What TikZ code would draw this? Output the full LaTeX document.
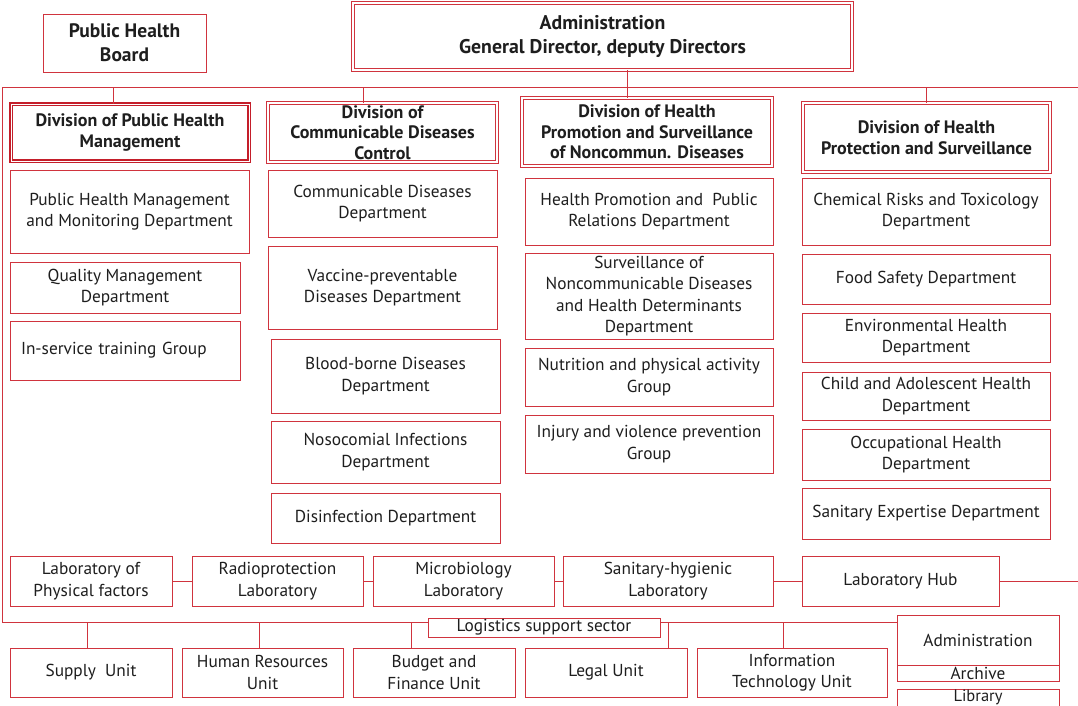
\documentclass[tikz,border=0pt]{standalone}
\usepackage{fontspec}
\setmainfont{PT Sans}
\definecolor{orgred}{RGB}{208,52,62}
\definecolor{orgdark}{RGB}{196,30,42}
\definecolor{orgtext}{RGB}{30,30,30}
\tikzset{
  unit/.style={draw=orgred, line width=0.9pt, fill=white, inner sep=0pt, outer sep=0pt,
    align=center, text=orgtext, font=\fontsize{17.3}{21.5}\selectfont},
  head/.style={unit, double=white, double distance=1.6pt, line width=0.8pt,
    font=\bfseries\fontsize{18}{21.5}\selectfont},
  headstrong/.style={head, draw=orgdark, line width=1.3pt, double distance=0.9pt},
  link/.style={draw=orgred, line width=0.9pt}
}
% box by its corners: style, name, x1, y1, x2, y2, text
\newcommand\orgbox[7]{%
  \node[#1, minimum width={#5-#3}, minimum height={#6-#4}] (#2)
    at ({(#3+#5)/2},{(#4+#6)/2}) {#7};}
\begin{document}
\begin{tikzpicture}[x=1pt,y=-1pt]
\useasboundingbox (0,0) rectangle (1078,705);

% bus lines of the frame
\coordinate (tl) at (2,87);
\coordinate (tr) at (1078,87);
\coordinate (bl) at (2,622);

% top level
\orgbox{unit, font=\bfseries\fontsize{19.5}{24}\selectfont}{board}{43}{14}{206}{72}{Public Health\\Board}
\orgbox{head, font=\bfseries\fontsize{19.8}{24}\selectfont}{adm}{353}{3}{852}{70}{Administration\\General Director, deputy Directors}

% divisions
\orgbox{headstrong}{dv1}{11}{104}{249}{161}{Division of Public Health\\Management}
\orgbox{head, font=\bfseries\fontsize{18}{20.5}\selectfont}{dv2}{268}{103}{497}{162}{Division of\\Communicable Diseases\\Control}
\orgbox{head, font=\bfseries\fontsize{18}{20.5}\selectfont}{dv3}{522}{98}{772}{166}{Division of Health\\Promotion and Surveillance\\of Noncommun. Diseases}
\orgbox{head}{dv4}{803}{103}{1050}{172}{Division of Health\\Protection and Surveillance}

% Division of Public Health Management
\orgbox{unit}{m1}{10}{170}{249}{253}{Public Health Management\\and Monitoring Department}
\orgbox{unit}{m2}{10}{262}{240}{313}{Quality Management\\Department}
\orgbox{unit, align=left, text width=208pt, inner xsep=11pt}{m3}{10}{321}{240}{380}{In-service training Group}

% Division of Communicable Diseases Control
\orgbox{unit}{c1}{268}{170}{497}{237}{Communicable Diseases\\Department}
\orgbox{unit}{c2}{268}{246}{497}{329}{Vaccine-preventable\\Diseases Department}
\orgbox{unit}{c3}{271}{339}{500}{413}{Blood-borne Diseases\\Department}
\orgbox{unit}{c4}{271}{421}{500}{483}{Nosocomial Infections\\Department}
\orgbox{unit}{c5}{271}{493}{500}{543}{Disinfection Department}

% Division of Health Promotion and Surveillance of Noncommunicable Diseases
\orgbox{unit}{p1}{525}{178}{773}{245}{Health Promotion and\ \ Public\\Relations Department}
\orgbox{unit}{p2}{525}{253}{773}{339}{Surveillance of\\Noncommunicable Diseases\\and Health Determinants\\Department}
\orgbox{unit}{p3}{525}{348}{773}{406}{Nutrition and physical activity\\Group}
\orgbox{unit}{p4}{525}{415}{773}{473}{Injury and violence prevention\\Group}

% Division of Health Protection and Surveillance
\orgbox{unit}{h1}{802}{178}{1050}{245}{Chemical Risks and Toxicology\\Department}
\orgbox{unit}{h2}{802}{254}{1050}{304}{Food Safety Department}
\orgbox{unit}{h3}{802}{313}{1050}{362}{Environmental Health\\Department}
\orgbox{unit}{h4}{802}{372}{1050}{420}{Child and Adolescent Health\\Department}
\orgbox{unit}{h5}{802}{429}{1050}{480}{Occupational Health\\Department}
\orgbox{unit}{h6}{802}{488}{1050}{539}{Sanitary Expertise Department}

% laboratories
\orgbox{unit}{l1}{10}{556}{172}{606}{Laboratory of\\Physical factors}
\orgbox{unit}{l2}{192}{556}{363}{606}{Radioprotection\\Laboratory}
\orgbox{unit}{l3}{373}{556}{554}{606}{Microbiology\\Laboratory}
\orgbox{unit}{l4}{563}{556}{773}{606}{Sanitary-hygienic\\Laboratory}
\orgbox{unit}{l5}{802}{556}{999}{606}{Laboratory Hub}
\coordinate (hubend) at (1078,581);

% logistics support sector
\orgbox{unit}{logi}{428}{618}{660}{637}{Logistics support sector}
\orgbox{unit}{u1}{10}{648}{172}{697}{Supply\ \ Unit}
\orgbox{unit}{u2}{182}{648}{343}{697}{Human Resources\\Unit}
\orgbox{unit}{u3}{353}{648}{515}{697}{Budget and\\Finance Unit}
\orgbox{unit}{u4}{525}{648}{687}{697}{Legal Unit}
\orgbox{unit}{u5}{697}{648}{887}{697}{Information\\Technology Unit}
\orgbox{unit}{ad}{897}{615}{1059}{665}{Administration}
\orgbox{unit}{ar}{897}{665}{1059}{681}{Archive}
\orgbox{unit, font=\fontsize{16.5}{20}\selectfont}{lib}{897}{689}{1059}{706}{Library}

% drop points on the bus lines
\coordinate (x1) at (113,87);
\coordinate (x2) at (363,87);
\coordinate (x3) at (627,87);
\coordinate (x4) at (926,87);
\coordinate (y1) at (87,622);
\coordinate (y2) at (259,622);
\coordinate (y3) at (411,622);
\coordinate (y4) at (668,622);
\coordinate (y5) at (783,622);

% frame and connectors
\draw[link] (tr) -- (tl) -- (bl) -- (bl -| logi.west);
\draw[link] (logi.east |- bl) -- (bl -| ad.west);
\draw[link] (x3) -- (x3 |- adm.south);
\draw[link] (x1) -- (x1 |- dv1.north);
\draw[link] (x2) -- (x2 |- dv2.north);
\draw[link] (x3) -- (x3 |- dv3.north);
\draw[link] (x4) -- (x4 |- dv4.north);
\draw[link] (l1) -- (l2);
\draw[link] (l2) -- (l3);
\draw[link] (l3) -- (l4);
\draw[link] (l4) -- (l5);
\draw[link] (l5) -- (hubend);
\draw[link] (y1) -- (y1 |- u1.north);
\draw[link] (y2) -- (y2 |- u2.north);
\draw[link] (y3) -- (y3 |- u3.north);
\draw[link] (y4) -- (y4 |- u4.north);
\draw[link] (y5) -- (y5 |- u5.north);
\end{tikzpicture}
\end{document}
